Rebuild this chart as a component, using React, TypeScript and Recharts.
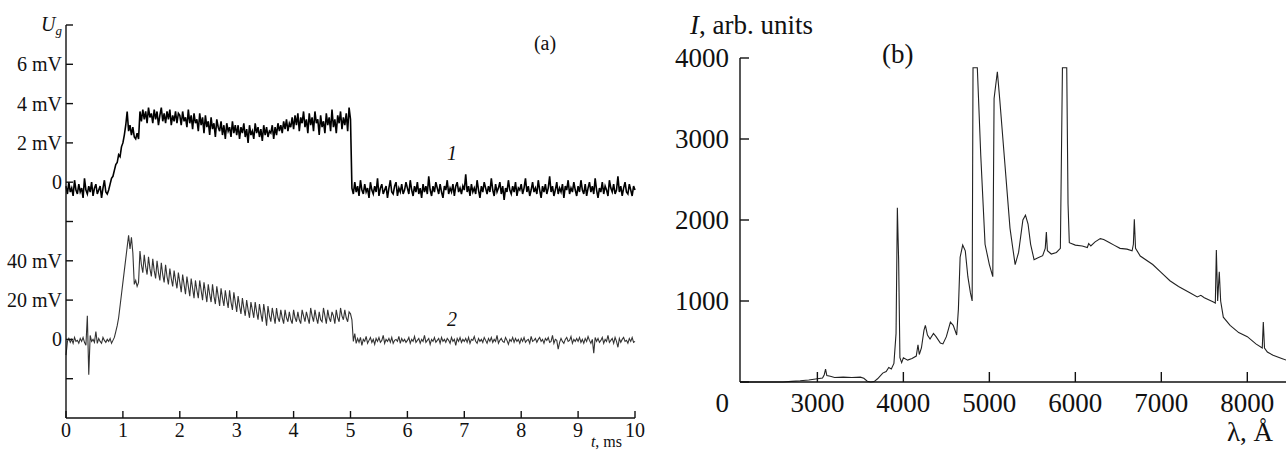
import { LineChart, Line, XAxis, YAxis } from "recharts";

// (a) oscillograms, one sample every DT ms, 40 samples per row = 1 ms
const DT = 0.025;

// trace 1, mV
const trace1 = [
  -0.2, -0.6, 0.0, -0.5, -0.3, -0.7, 0.1, -0.4, -0.6, -0.1, -0.5, -0.3, -0.8, 0.2, -0.4, -0.6, -0.2, -0.5, 0.0, -0.7, -0.3, -0.1, -0.6, -0.4, -0.2, -0.8, -0.3, 0.1, -0.5, -0.6, -0.4, -0.1, 0.2, 0.3, 0.6, 0.9, 1.0, 1.4, 1.3, 1.8,
  2.0, 2.4, 2.9, 3.6, 2.6, 2.9, 2.4, 2.8, 2.3, 2.2, 2.5, 2.2, 3.6, 3.1, 3.7, 3.2, 3.6, 3.0, 3.8, 3.3, 3.5, 3.0, 3.7, 3.2, 3.6, 2.9, 3.4, 3.8, 3.1, 3.5, 3.0, 3.6, 3.2, 3.7, 2.9, 3.4, 3.1, 3.6, 3.0, 3.5,
  3.4, 2.9, 3.6, 3.1, 3.3, 2.8, 3.7, 3.0, 3.4, 2.7, 3.5, 3.0, 3.2, 2.6, 3.5, 2.9, 3.3, 2.5, 3.4, 2.8, 3.1, 2.4, 3.3, 2.7, 3.0, 2.3, 3.2, 2.8, 2.6, 3.1, 2.4, 2.9, 2.2, 3.0, 2.6, 2.8, 2.3, 3.1, 2.5, 2.9,
  2.4, 2.9, 2.2, 2.8, 2.5, 3.0, 2.3, 2.7, 2.0, 2.9, 2.4, 2.6, 2.2, 3.0, 2.5, 2.8, 2.3, 2.7, 2.1, 2.9, 2.4, 2.8, 2.3, 2.6, 2.5, 2.9, 2.2, 2.8, 2.4, 3.0, 2.6, 2.9, 2.5, 3.1, 2.7, 3.2, 2.6, 3.0, 2.8, 3.3,
  2.7, 3.4, 2.9, 3.5, 2.6, 3.3, 3.0, 3.6, 2.8, 3.2, 2.5, 3.5, 2.9, 3.3, 2.6, 3.6, 3.0, 3.2, 2.4, 3.4, 2.8, 3.1, 2.5, 3.5, 2.9, 3.3, 2.6, 3.7, 2.8, 3.2, 2.5, 3.4, 3.0, 3.6, 2.7, 3.3, 2.9, 3.5, 2.6, 3.8,
  3.2, -0.3, -0.6, 0.0, -0.5, -0.2, -0.7, 0.1, -0.4, -0.6, -0.1, -0.5, -0.3, -0.8, 0.0, -0.4, -0.6, -0.2, -0.5, 0.2, -0.7, -0.3, -0.1, -0.6, -0.4, -0.2, -0.8, -0.3, 0.1, -0.5, -0.6, -0.2, 0.0, -0.7, -0.3, -0.5, -0.1, -0.6, -0.4, 0.0,
  -0.3, -0.6, 0.1, -0.4, -0.7, -0.2, -0.5, 0.0, -0.6, -0.3, -0.8, -0.1, -0.5, -0.2, -0.6, 0.3, -0.4, -0.7, -0.2, -0.5, 0.0, -0.3, -0.6, -0.1, -0.5, -0.8, -0.2, -0.4, 0.1, -0.6, -0.3, -0.5, -0.1, -0.7, -0.2, 0.0, -0.5, -0.3, -0.6, -0.2,
  -0.4, 0.4, -0.5, -0.2, -0.7, -0.1, -0.5, -0.3, -0.6, 0.1, -0.4, -0.8, -0.2, -0.5, 0.0, -0.3, -0.6, -0.2, -0.5, 0.2, -0.4, -0.7, -0.1, -0.5, -0.3, 0.0, -0.6, -0.2, -0.9, -0.3, -0.5, 0.1, -0.4, -0.6, -0.2, -0.5, 0.0, -0.7, -0.3, -0.4,
  -0.1, -0.6, -0.3, 0.2, -0.5, -0.2, -0.7, -0.4, 0.0, -0.5, -0.3, -0.6, 0.1, -0.4, -0.8, -0.2, -0.5, -0.1, -0.6, -0.3, 0.3, -0.5, -0.2, -0.7, -0.4, 0.0, -0.6, -0.3, -0.5, -0.1, -0.8, -0.2, -0.4, 0.1, -0.6, -0.3, -0.5, 0.0, -0.4, -0.7,
  -0.2, -0.5, 0.1, -0.4, -0.6, -0.1, -0.7, -0.3, 0.0, -0.5, -0.2, -0.6, 0.2, -0.4, -0.8, -0.3, -0.5, 0.0, -0.6, -0.2, -0.4, -0.7, 0.1, -0.3, -0.5, -0.1, -0.6, -0.4, 0.3, -0.5, -0.2, -0.7, -0.3, 0.0, -0.5, -0.6, -0.1, -0.4, -0.7, -0.2,
  -0.4,
];

// trace 2, mV
const trace2 = [
  -8, -1, 0.5, -1.5, 0, -2, 1, -1, -0.5, -2, 0.5, -1, 1, -1.5, -3, 12, -18, 2, -1, 0, -1.5, 4, -2, 0.5, -1, -2, 1, -0.5, -1.5, 0, -1, 0.5, -2, -0.5, 1, 4, 7, 11, 17, 23,
  29, 35, 41, 47, 53, 46, 52, 44, 28, 30, 27, 29, 45, 38, 34, 43, 37, 33, 42, 36, 32, 41, 35, 31, 40, 34, 30, 39, 33, 29, 38, 32, 28, 36, 31, 27, 35, 30, 26, 34,
  29, 24, 33, 28, 23, 32, 27, 22, 31, 26, 21, 30, 25, 21, 30, 25, 20, 29, 24, 19, 28, 23, 19, 28, 22, 18, 27, 22, 17, 26, 21, 17, 25, 20, 16, 25, 19, 15, 24, 19,
  14, 22, 17, 13, 21, 16, 12, 20, 15, 11, 19, 15, 11, 19, 14, 10, 18, 13, 9, 18, 13, 7, 17, 12, 9, 16, 12, 8, 16, 11, 9, 15, 11, 8, 15, 11, 9, 14, 10, 8,
  15, 11, 9, 14, 10, 8, 15, 12, 9, 14, 11, 8, 16, 12, 9, 15, 11, 8, 14, 10, 9, 16, 12, 8, 15, 11, 9, 14, 12, 8, 15, 11, 9, 16, 12, 10, 15, 11, 9, 14,
  13, 10, -1, 3, -2, 0.5, -1.5, 1, -3, 0, -1, 1.5, -2, -0.5, 1, -1.5, 0, -2.5, 0.5, -1, 1, -1.5, -0.5, 2, -2, 0, -1, 0.5, -1.5, 1, -2, -0.5, 0, -1, 1.5, -2, 0.5, -1, 0, -1.5,
  -0.5, 1, -2, 0, -1, 1.5, -1.5, -0.5, 0.5, -2, 0, -1, 2, -1.5, -0.5, 0.5, -2.5, 0, -1, 1, -1.5, -0.5, 0.5, -2, 1, -1, 0, -1.5, 0.5, -0.5, -2, 1, -1, 0, -3, 0.5, -1, 1, -1.5, 0,
  -1, 0.5, -1.5, 1, -2, 0, -0.5, 1.5, -1, -2, 0.5, -1, 0, -1.5, 1, -0.5, -2, 0.5, -1, 1, -1.5, 0, -1, 2, -2, -0.5, 0.5, -1, -1.5, 1, -0.5, -2.5, 0, -1, 1, -1.5, 0.5, -1, 0, -2,
  0.5, -1, 1, -1.5, -0.5, 0, -2, 1.5, -1, -0.5, 0.5, -1.5, 0, 1, -1, 0, -2, 0.5, -0.5, 1, -1.5, -1, 2, -2, 0, -0.5, -5, -1.5, 0.5, -1, -2, 0, 1, -1, -0.5, 1.5, -2, 0, -1, 0.5,
  -1, 1, -1.5, 0, -2, 0.5, -1, 1.5, -0.5, -2, 0, -7, 1, -1, 0.5, -1.5, -0.5, 1, -2, 0, -1, 2, -1.5, -0.5, 0.5, -2, 1, -1, -4, 0.5, -1.5, 0, 1, -1, -0.5, -2, 0.5, -1, 1, -1.5,
  -1,
];

const timeTicks = [0, 1, 2, 3, 4, 5, 6, 7, 8, 9, 10];
// left axis of (a) is in trace-1 units (2 mV per division); trace 2 sits on a hidden axis
const leftTickValues = [-10, -8, -6, -4, -2, 0, 2, 4, 6, 8];
const leftTickLabels = ["", "0", "20 mV", "40 mV", "", "0", "2 mV", "4 mV", "6 mV", "Ug"];

// (b) spectrum
const lambda = [
  2100, 2600, 2700, 2800, 2900, 3000, 3060, 3080, 3095, 3110, 3150, 3200, 3300, 3400, 3500, 3540, 3580, 3620, 3660, 3700,
  3760, 3800, 3830, 3860, 3890, 3915, 3930, 3945, 3960, 3980, 4000, 4050, 4100, 4150, 4170, 4185, 4210, 4240, 4256, 4280,
  4310, 4350, 4380, 4430, 4460, 4500, 4547, 4580, 4620, 4640, 4660, 4690, 4720, 4750, 4780, 4800, 4810, 4860, 4900, 4950,
  5000, 5040, 5055, 5093, 5120, 5180, 5240, 5270, 5300, 5340, 5390, 5420, 5450, 5480, 5520, 5560, 5620, 5650, 5663, 5675,
  5720, 5780, 5826, 5850, 5900, 5915, 5930, 6000, 6080, 6140, 6155, 6180, 6230, 6290, 6330, 6400, 6450, 6520, 6600, 6660,
  6675, 6686, 6700, 6755, 6900, 7000, 7100, 7200, 7337, 7418, 7460, 7500, 7600, 7628, 7640, 7655, 7674, 7690, 7721, 7800,
  7900, 8000, 8100, 8174, 8186, 8200, 8233, 8300, 8400, 8453,
];
const intensity = [
  0, 0, 8, 15, 25, 40, 50, 90, 160, 80, 70, 55, 60, 55, 60, 45, 10, 0, 5, 40,
  110, 130, 180, 160, 230, 600, 2150, 1500, 300, 240, 300, 270, 290, 320, 460, 340, 420, 640, 700, 580,
  530, 600, 560, 480, 470, 560, 740, 700, 580, 900, 1540, 1690, 1620, 1300, 1100, 1000, 3880, 3880, 2800, 1700,
  1450, 1300, 3500, 3830, 3500, 2700, 1900, 1670, 1450, 1600, 2000, 2060, 1950, 1700, 1510, 1530, 1560, 1650, 1850, 1620,
  1580, 1600, 1650, 3880, 3880, 2200, 1720, 1690, 1680, 1660, 1710, 1680, 1730, 1770, 1760, 1720, 1690, 1650, 1640, 1620,
  1700, 2010, 1650, 1555, 1450, 1350, 1250, 1180, 1100, 1050, 1070, 1040, 990, 975, 1630, 1000, 1360, 1000, 800, 700,
  610, 560, 470, 420, 740, 420, 370, 330, 290, 270,
];
const lambdaTicks = [3000, 4000, 5000, 6000, 7000, 8000];
const intensityTicks = [0, 1000, 2000, 3000, 4000];

const oscData = trace1.map((u1, i) => ({ t: i * DT, u1, u2: trace2[i] }));
const specData = lambda.map((l, i) => ({ l, I: intensity[i] }));

const FONT = "'Liberation Serif', 'Times New Roman', serif";
const INK = "#111";

function LeftTick(props: any) {
  const { x, y, payload } = props;
  const label = leftTickLabels[leftTickValues.indexOf(payload.value)];
  if (label === "Ug") {
    return (
      <text x={x} y={y + 6} textAnchor="end" fontFamily={FONT} fontSize={20} fill={INK}>
        <tspan fontStyle="italic">U</tspan>
        <tspan fontStyle="italic" fontSize={13} dy={4}>g</tspan>
      </text>
    );
  }
  return (
    <text x={x} y={y} dy="0.35em" textAnchor="end" fontFamily={FONT} fontSize={20} fill={INK}>
      {label}
    </text>
  );
}

function SpecTick(props: any) {
  const { x, y, payload } = props;
  const shift = payload.value === 0 ? 21 : 0;
  return (
    <text x={x} y={y + shift} dy="0.35em" textAnchor="end" fontFamily={FONT} fontSize={27} fill={INK}>
      {payload.value}
    </text>
  );
}

const axisLine = { stroke: INK, strokeWidth: 1.4 };

export default function App() {
  return (
    <div style={{ position: "absolute", left: 0, top: 0, width: 1286, height: 452, background: "#fff" }}>
      <div style={{ position: "absolute", left: 0, top: 0 }}>
        <LineChart width={660} height={452} data={oscData} margin={{ top: 25, right: 25, bottom: 4, left: 6 }}>
          <XAxis
            dataKey="t"
            type="number"
            domain={[0, 10]}
            ticks={timeTicks}
            interval={0}
            height={30}
            tickSize={-7}
            tickMargin={12}
            axisLine={axisLine}
            tickLine={axisLine}
            tick={{ fill: INK, fontSize: 20, fontFamily: FONT }}
          />
          <YAxis
            yAxisId="a"
            type="number"
            domain={[-12, 8]}
            ticks={leftTickValues}
            interval={0}
            width={60}
            tickSize={-7}
            tickMargin={11}
            axisLine={axisLine}
            tickLine={axisLine}
            tick={LeftTick}
          />
          <YAxis yAxisId="b" type="number" domain={[-40, 160]} hide />
          <Line yAxisId="a" dataKey="u1" type="linear" dot={false} stroke="#000" strokeWidth={1.6} isAnimationActive={false} />
          <Line yAxisId="b" dataKey="u2" type="linear" dot={false} stroke="#333" strokeWidth={1.1} isAnimationActive={false} />
        </LineChart>
      </div>
      <div style={{ position: "absolute", left: 640, top: 0 }}>
        <LineChart width={646} height={452} data={specData} margin={{ top: 58, right: 0, bottom: 30, left: 0 }}>
          <XAxis
            dataKey="l"
            type="number"
            domain={[2100, 8450]}
            allowDataOverflow
            ticks={lambdaTicks}
            interval={0}
            height={40}
            tickSize={-10}
            tickMargin={21}
            axisLine={axisLine}
            tickLine={axisLine}
            tick={{ fill: INK, fontSize: 27, fontFamily: FONT }}
          />
          <YAxis
            type="number"
            domain={[0, 4000]}
            ticks={intensityTicks}
            interval={0}
            width={100}
            tickSize={-9}
            tickMargin={20}
            axisLine={axisLine}
            tickLine={axisLine}
            tick={SpecTick}
          />
          <Line dataKey="I" type="linear" dot={false} stroke="#222" strokeWidth={1.1} isAnimationActive={false} />
        </LineChart>
      </div>
      <svg
        width={1286}
        height={452}
        style={{ position: "absolute", left: 0, top: 0, pointerEvents: "none" }}
        fontFamily={FONT}
        fill={INK}
      >
        <text x={545} y={50} textAnchor="middle" fontSize={20}>(a)</text>
        <text x={452} y={160} textAnchor="middle" fontSize={20} fontStyle="italic">1</text>
        <text x={452} y={326} textAnchor="middle" fontSize={20} fontStyle="italic">2</text>
        <text x={622} y={447} textAnchor="end" fontSize={16}>
          <tspan fontStyle="italic">t</tspan>, ms
        </text>
        <text x={690} y={34} fontSize={27}>
          <tspan fontStyle="italic">I</tspan>, arb. units
        </text>
        <text x={882} y={63} fontSize={27}>(b)</text>
        <text x={1273} y={441} textAnchor="end" fontSize={27}>λ, Å</text>
      </svg>
    </div>
  );
}
